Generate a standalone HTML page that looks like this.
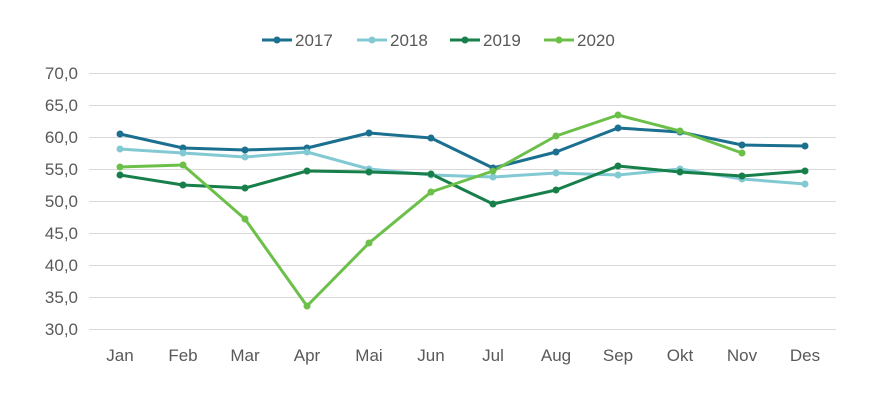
<!DOCTYPE html>
<html><head><meta charset="utf-8"><style>
html,body{margin:0;padding:0;background:#fff;}
svg{display:block;font-family:"Liberation Sans",Arial,sans-serif;}
</style></head><body>
<svg width="873" height="408" viewBox="0 0 873 408" xmlns="http://www.w3.org/2000/svg">
<g stroke="#d9d9d9" stroke-width="1">
<line x1="89" y1="73.5" x2="836" y2="73.5"/>
<line x1="89" y1="105.5" x2="836" y2="105.5"/>
<line x1="89" y1="137.5" x2="836" y2="137.5"/>
<line x1="89" y1="169.5" x2="836" y2="169.5"/>
<line x1="89" y1="201.5" x2="836" y2="201.5"/>
<line x1="89" y1="233.5" x2="836" y2="233.5"/>
<line x1="89" y1="265.5" x2="836" y2="265.5"/>
<line x1="89" y1="297.5" x2="836" y2="297.5"/>
<line x1="89" y1="329.5" x2="836" y2="329.5"/>
</g>
<g font-size="17" fill="#595959" text-anchor="end">
<text x="78" y="79">70,0</text><text x="78" y="111">65,0</text><text x="78" y="143">60,0</text>
<text x="78" y="175">55,0</text><text x="78" y="207">50,0</text><text x="78" y="239">45,0</text>
<text x="78" y="271">40,0</text><text x="78" y="303">35,0</text><text x="78" y="335">30,0</text>
</g>
<g font-size="17" fill="#595959" text-anchor="middle">
<text x="120" y="361">Jan</text><text x="183" y="361">Feb</text><text x="245" y="361">Mar</text>
<text x="307" y="361">Apr</text><text x="369" y="361">Mai</text><text x="431" y="361">Jun</text>
<text x="493" y="361">Jul</text><text x="556" y="361">Aug</text><text x="618" y="361">Sep</text>
<text x="680" y="361">Okt</text><text x="742" y="361">Nov</text><text x="805" y="361">Des</text>
</g>
<g fill="none" stroke-width="3" stroke-linejoin="round">
<polyline stroke="#1b6f8f" points="120,134 183,148 245,150 307,148 369,133 431,138 493,168 556,152 618,128 680,132 742,145 805,146"/>
<polyline stroke="#82c9d3" points="120,149 183,153 245,157 307,152 369,169 431,175 493,177 556,173 618,175 680,169 742,179 805,184"/>
<polyline stroke="#17804a" points="120,175 183,185 245,188 307,171 369,172 431,174 493,204 556,190 618,166 680,172 742,176 805,171"/>
<polyline stroke="#6cc04a" points="120,167 183,165 245,219 307,306 369,243 431,192 493,171 556,136 618,115 680,131 742,153"/>
</g>
<g fill="#1b6f8f"><circle cx="120" cy="134" r="3.5"/><circle cx="183" cy="148" r="3.5"/><circle cx="245" cy="150" r="3.5"/><circle cx="307" cy="148" r="3.5"/><circle cx="369" cy="133" r="3.5"/><circle cx="431" cy="138" r="3.5"/><circle cx="493" cy="168" r="3.5"/><circle cx="556" cy="152" r="3.5"/><circle cx="618" cy="128" r="3.5"/><circle cx="680" cy="132" r="3.5"/><circle cx="742" cy="145" r="3.5"/><circle cx="805" cy="146" r="3.5"/></g>
<g fill="#82c9d3"><circle cx="120" cy="149" r="3.5"/><circle cx="183" cy="153" r="3.5"/><circle cx="245" cy="157" r="3.5"/><circle cx="307" cy="152" r="3.5"/><circle cx="369" cy="169" r="3.5"/><circle cx="431" cy="175" r="3.5"/><circle cx="493" cy="177" r="3.5"/><circle cx="556" cy="173" r="3.5"/><circle cx="618" cy="175" r="3.5"/><circle cx="680" cy="169" r="3.5"/><circle cx="742" cy="179" r="3.5"/><circle cx="805" cy="184" r="3.5"/></g>
<g fill="#17804a"><circle cx="120" cy="175" r="3.5"/><circle cx="183" cy="185" r="3.5"/><circle cx="245" cy="188" r="3.5"/><circle cx="307" cy="171" r="3.5"/><circle cx="369" cy="172" r="3.5"/><circle cx="431" cy="174" r="3.5"/><circle cx="493" cy="204" r="3.5"/><circle cx="556" cy="190" r="3.5"/><circle cx="618" cy="166" r="3.5"/><circle cx="680" cy="172" r="3.5"/><circle cx="742" cy="176" r="3.5"/><circle cx="805" cy="171" r="3.5"/></g>
<g fill="#6cc04a"><circle cx="120" cy="167" r="3.5"/><circle cx="183" cy="165" r="3.5"/><circle cx="245" cy="219" r="3.5"/><circle cx="307" cy="306" r="3.5"/><circle cx="369" cy="243" r="3.5"/><circle cx="431" cy="192" r="3.5"/><circle cx="493" cy="171" r="3.5"/><circle cx="556" cy="136" r="3.5"/><circle cx="618" cy="115" r="3.5"/><circle cx="680" cy="131" r="3.5"/><circle cx="742" cy="153" r="3.5"/></g>
<g stroke-width="3">
<line x1="262" y1="40" x2="292" y2="40" stroke="#1b6f8f"/><circle cx="277" cy="40" r="3.5" fill="#1b6f8f"/>
<line x1="357" y1="40" x2="387" y2="40" stroke="#82c9d3"/><circle cx="372" cy="40" r="3.5" fill="#82c9d3"/>
<line x1="450" y1="40" x2="480" y2="40" stroke="#17804a"/><circle cx="465" cy="40" r="3.5" fill="#17804a"/>
<line x1="544" y1="40" x2="574" y2="40" stroke="#6cc04a"/><circle cx="559" cy="40" r="3.5" fill="#6cc04a"/>
</g>
<g font-size="17" fill="#595959">
<text x="295" y="46">2017</text><text x="390" y="46">2018</text><text x="483" y="46">2019</text><text x="577" y="46">2020</text>
</g>
</svg>
</body></html>
